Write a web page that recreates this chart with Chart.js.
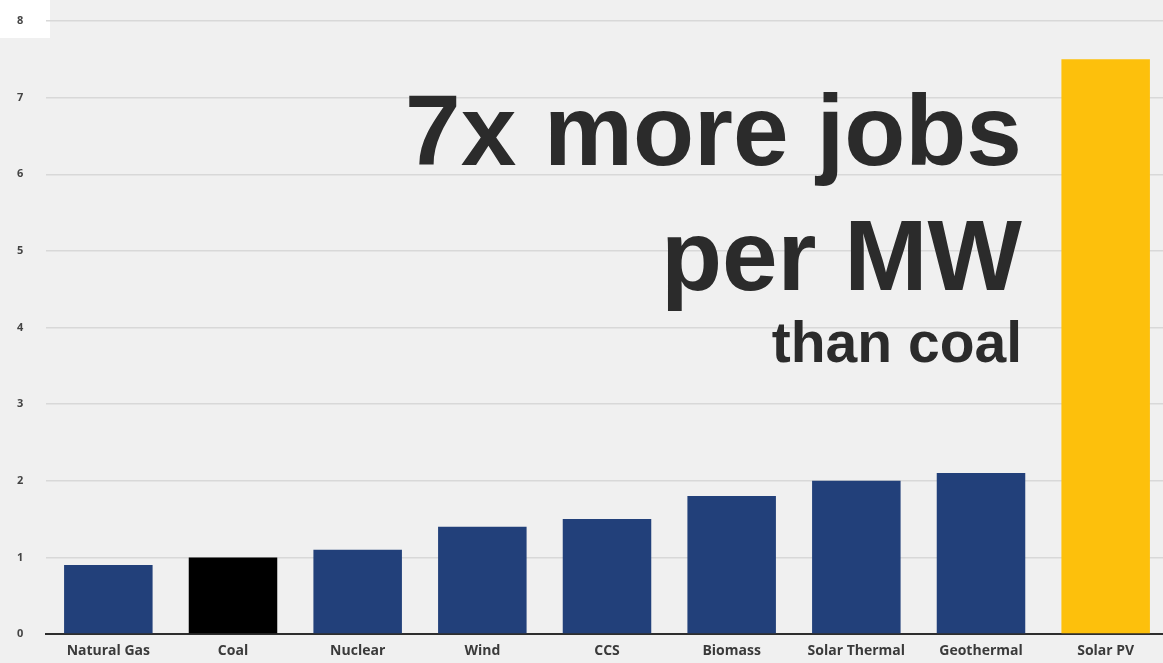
<!DOCTYPE html>
<html>
<head>
<meta charset="utf-8">
<script src="https://cdn.jsdelivr.net/npm/chart.js@4"></script>
<style>
  html, body { margin: 0; padding: 0; background: #f0f0f0; overflow: hidden; }
  #wrap { position: relative; width: 1168px; height: 663px; }
  canvas { display: block; }
  .note {
    position: absolute;
    right: 146px;
    font-family: "Liberation Sans", Arial, sans-serif;
    font-weight: bold;
    color: #2b2b2b;
    line-height: 1;
    white-space: nowrap;
  }
  #line1 { top: 80px; font-size: 100px; }
  #line2 { top: 205px; font-size: 100px; }
  #line3 { top: 314px; font-size: 57px; }
</style>
</head>
<body>
<div id="wrap">
  <canvas id="jobsChart" width="1168" height="663"></canvas>
  <div class="note" id="line1">7x more jobs</div>
  <div class="note" id="line2">per MW</div>
  <div class="note" id="line3">than coal</div>
</div>

<script>
// Jobs per MW of installed capacity, by generation source
const sources = ["Natural Gas", "Coal", "Nuclear", "Wind", "CCS", "Biomass", "Solar Thermal", "Geothermal", "Solar PV"];
const jobsPerMW = [0.9, 1.0, 1.1, 1.4, 1.5, 1.8, 2.0, 2.1, 7.5];
const barColors = ["#22407a", "#000000", "#22407a", "#22407a", "#22407a", "#22407a", "#22407a", "#22407a", "#fdc00c"];
const yTicks = [0, 1, 2, 3, 4, 5, 6, 7, 8];

// little white patch behind the top tick label
const cornerPatch = {
    id: 'cornerPatch',
    beforeDraw(chart) {
        const ctx = chart.ctx;
        ctx.save();
        ctx.fillStyle = '#ffffff';
        ctx.fillRect(0, 0, 50, 38);
        ctx.restore();
    }
};

const ctx = document.getElementById('jobsChart').getContext('2d');

new Chart(ctx, {
    type: 'bar',
    data: {
        labels: sources,
        datasets: [{
            data: jobsPerMW,
            backgroundColor: barColors,
            borderWidth: 0,
            categoryPercentage: 1.0,
            barPercentage: 0.71
        }]
    },
    options: {
        responsive: false,
        animation: false,
        layout: { padding: { top: 21, right: 0, left: 17, bottom: 0 } },
        plugins: {
            legend: { display: false },
            tooltip: { enabled: false }
        },
        scales: {
            x: {
                grid: { display: false, drawTicks: false },
                border: { display: true, color: '#2e2e2e', width: 2 },
                ticks: {
                    color: '#3a3a3a',
                    padding: 9,
                    maxRotation: 0,
                    autoSkip: false,
                    font: { family: 'Open Sans', size: 14, weight: 'bold' }
                },
                afterFit(scale) { scale.height = 29; }
            },
            y: {
                min: 0,
                max: 8,
                afterBuildTicks(scale) {
                    scale.ticks = yTicks.map(v => ({ value: v }));
                },
                grid: {
                    color: '#d8d8d8',
                    lineWidth: 1.5,
                    drawTicks: false
                },
                border: { display: false },
                ticks: {
                    color: '#444',
                    padding: 0,
                    crossAlign: 'far',
                    font: { family: 'Open Sans', size: 11, weight: 'bold' }
                },
                afterFit(scale) { scale.width = 29; }
            }
        }
    },
    plugins: [cornerPatch]
});
</script>
</body>
</html>
